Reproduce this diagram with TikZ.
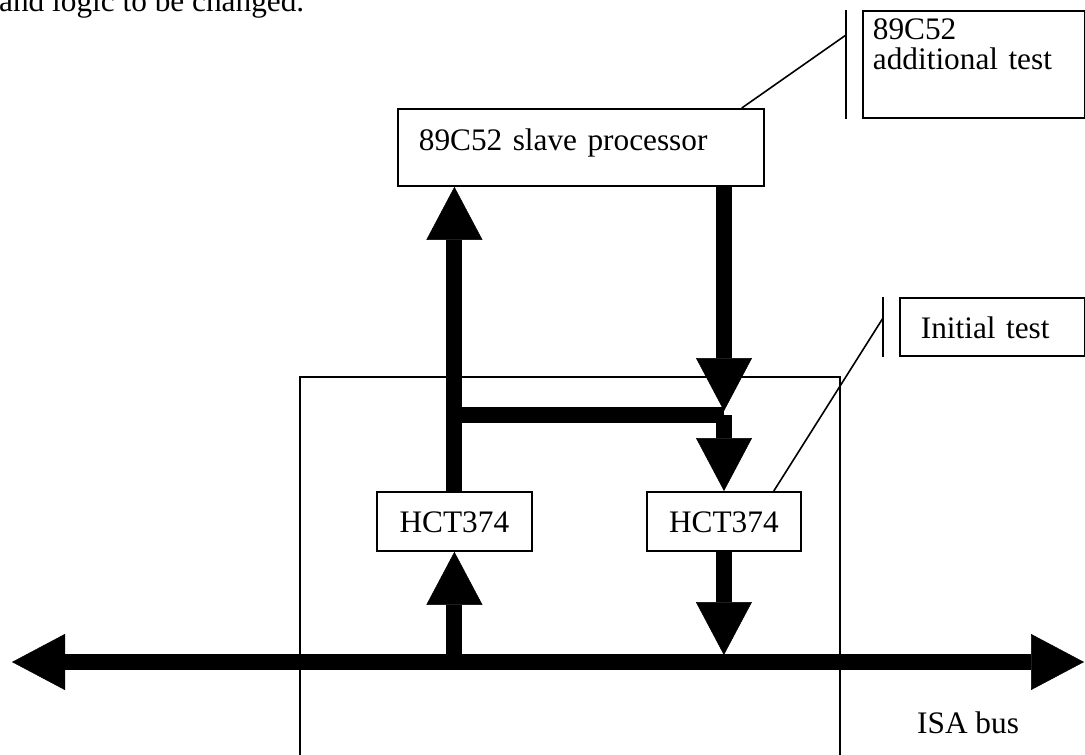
\documentclass[tikz,border=0pt]{standalone}
\usepackage{fontspec}
\setmainfont{Liberation Serif}
\usetikzlibrary{arrows.meta,positioning}

\begin{document}
\begin{tikzpicture}[
    x=1pt, y=-1pt,
    every node/.style={font=\fontsize{31.3}{30}\selectfont},
    blk/.style={draw, line width=1.8pt, inner ysep=0pt, text height=41pt, text depth=18pt},
    callout/.style={line width=1.6pt},
    fat/.style={line width=16pt, -{Triangle[length=53pt,width=56pt,line width=0.5pt]}},
    bus/.style={line width=16pt, {Triangle[length=53pt,width=56pt,line width=0.5pt]}-{Triangle[length=53pt,width=56pt,line width=0.5pt]}}
]
\useasboundingbox (0,0) rectangle (1085,755);
\clip (0,0) rectangle (1085,755);

\node[anchor=base west, inner sep=0pt] (intro) at (-1,11) {and logic to be changed.};
\node[blk, anchor=north west, align=left, text width=324pt, inner xsep=21pt, text height=42pt, text depth=35pt] (slave) at (397,108) {89C52 slave processor};
\node[draw, line width=1.6pt, anchor=north west, minimum width=540pt, minimum height=400pt, inner sep=0pt] (card) at (299,376) {};
\node[blk, anchor=north west, align=left, text width=202pt, inner xsep=10pt, text height=29pt, text depth=78pt] (addl) at (862,10) {89C52\\additional test};
\node[blk, anchor=north west, align=center, text width=111pt, inner xsep=22pt] (hctL) at (376,491) {HCT374};
\node[blk, anchor=north west, align=center, text width=110pt, inner xsep=22pt] (hctR) at (646,491) {HCT374};
\node[blk, anchor=north west, align=left, text width=143pt, inner xsep=21pt, text depth=17pt] (init) at (899,297) {Initial test};
\node[anchor=base west, inner sep=0pt] (isa) at (917,733) {ISA bus};

\coordinate (busW) at (12,662);
\coordinate (busE) at (1084,662);
\coordinate (busup) at (0,655);
\coordinate (tee) at (724,415);
\coordinate (teetop) at (724,411);

\draw[bus] (busW) -- (busE);
\draw[fat] (hctL.south |- busW) -- (hctL.south);
\draw[fat] (hctR.south) -- (hctR.south |- busup);
\draw[fat] (hctL.north) -- (hctL.north |- slave.south);
\draw[line width=16pt] (hctL.north |- tee) -- (tee);
\draw[fat] (slave.south -| tee) -- (teetop);
\draw[fat] (tee) -- (hctR.north -| tee);

\draw[callout] ([xshift=-23pt]slave.north east) -- ([xshift=-16pt,yshift=-25pt]addl.north west);
\draw[callout] ([xshift=-16pt]addl.north west) -- ([xshift=-16pt]addl.south west);
\draw[callout] ([xshift=-28pt]hctR.north east) -- ([xshift=-16pt,yshift=-21pt]init.north west);
\draw[callout] ([xshift=-16pt]init.north west) -- ([xshift=-16pt]init.south west);
\end{tikzpicture}
\end{document}
